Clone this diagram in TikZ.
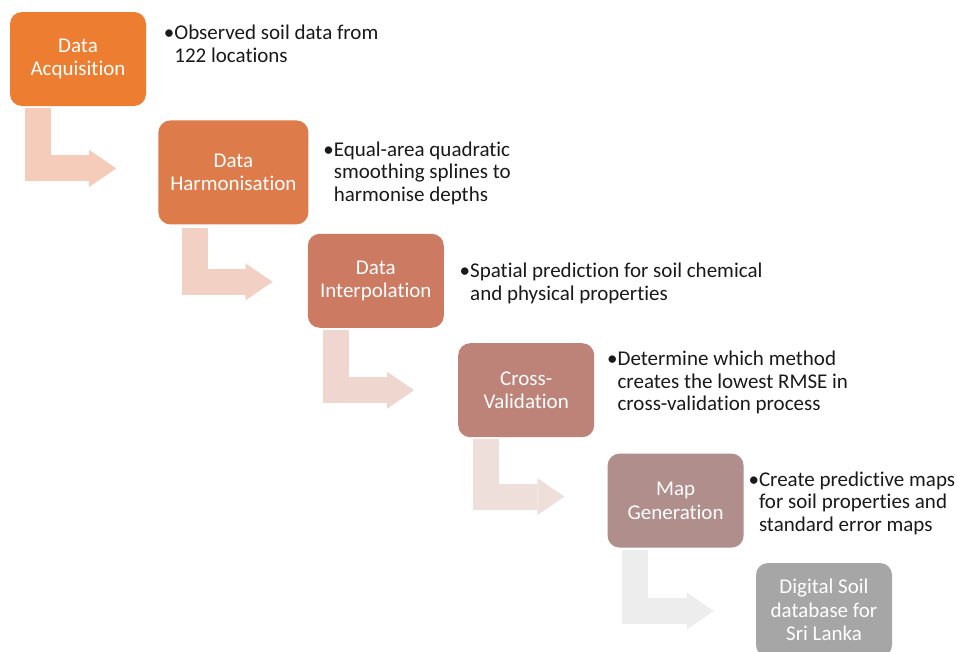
\documentclass[tikz,border=0pt]{standalone}
\usepackage{fontspec}
\setmainfont{Carlito}[Ligatures=NoCommon]
\usetikzlibrary{positioning}
\usetikzlibrary{arrows.meta}
% box fills, orange fading to grey
\definecolor{acqcol}{HTML}{ED7D31}
\definecolor{harmcol}{HTML}{DE7B4B}
\definecolor{interpcol}{HTML}{CD7A62}
\definecolor{crosscol}{HTML}{BD8278}
\definecolor{mapcol}{HTML}{B08E8C}
\definecolor{dsdcol}{HTML}{A6A6A6}
% light tints for the bent arrows
\definecolor{arrA}{HTML}{F5CBB9}
\definecolor{arrB}{HTML}{F2D0C4}
\definecolor{arrC}{HTML}{EFD6CE}
\definecolor{arrD}{HTML}{EEDFDB}
\definecolor{arrE}{HTML}{EEEDED}
\definecolor{notetext}{HTML}{1A1A1A}
\tikzset{%
  blk/.style = {rectangle,rounded corners=12pt,fill=#1,text=white,
        align=center,inner sep=0pt,minimum width=136pt,
        minimum height=94pt,font=\fontsize{21}{23.5}\selectfont},
  note/.style = {align=left,inner sep=0pt,text=notetext,
        font=\fontsize{21}{22.5}\selectfont},
  downright/.style = {line width=26pt,line join=miter,
        -{Triangle[length=27pt,width=37pt,line width=0pt]}}
}

\begin{document}
\begin{tikzpicture}[x=1pt,y=-1pt]
   \fill[white] (0,0) rectangle (957,651);
   \useasboundingbox (0,0) rectangle (957,651);

   \node[blk=acqcol] (acq) at (78,59) {Data\\Acquisition};
   \node[blk=harmcol,minimum width=150pt,minimum height=104pt] (harm)
        [below right=14pt and 12pt of acq] {Data\\Harmonisation};
   \node[blk=interpcol] (interp) [below right=9pt and -1pt of harm]
        {Data\\Interpolation};
   \node[blk=crosscol] (cross) [below right=15pt and 14pt of interp]
        {Cross-\\Validation};
   \node[blk=mapcol] (mapgen) [below right=16pt and 13pt of cross]
        {Map\\Generation};
   \node[blk=dsdcol] (dsd) [below right=15pt and 12pt of mapgen]
        {Digital Soil\\database for\\Sri Lanka};

   % notes beside each step
   \node[note] (n-acq) [below right=12pt and 28pt of acq.north east]
        {\strut\llap{\textbullet}Observed soil data from\\122 locations};
   \node[note] (n-harm) [below right=20pt and 25pt of harm.north east]
        {\strut\llap{\textbullet}Equal-area quadratic\\smoothing splines to\\harmonise depths};
   \node[note] (n-interp) [below right=28pt and 26pt of interp.north east]
        {\strut\llap{\textbullet}Spatial prediction for soil chemical\\and physical properties};
   \node[note] (n-cross) [below right=7pt and 23pt of cross.north east]
        {\strut\llap{\textbullet}Determine which method\\creates the lowest RMSE in\\cross-validation process};
   \node[note] (n-map) [below right=17pt and 15pt of mapgen.north east]
        {\strut\llap{\textbullet}Create predictive maps\\for soil properties and\\standard error maps};

   \draw[downright,draw=arrA] ([xshift=28.5pt,yshift=-2pt]acq.south west)
        |- ([xshift=-42pt,yshift=4pt]harm.west);
   \draw[downright,draw=arrB] ([xshift=36.5pt,yshift=-3pt]harm.south west)
        |- ([xshift=-35pt,yshift=-1pt]interp.west);
   \draw[downright,draw=arrC] ([xshift=28.5pt,yshift=-2pt]interp.south west)
        |- ([xshift=-44pt]cross.west);
   \draw[downright,draw=arrD] ([xshift=28pt,yshift=-2pt]cross.south west)
        |- ([xshift=-43pt,yshift=4pt]mapgen.west);
   \draw[downright,draw=arrE] ([xshift=28pt,yshift=-2pt]mapgen.south west)
        |- ([xshift=-42pt,yshift=-1pt]dsd.west);
\end{tikzpicture}
\end{document}
